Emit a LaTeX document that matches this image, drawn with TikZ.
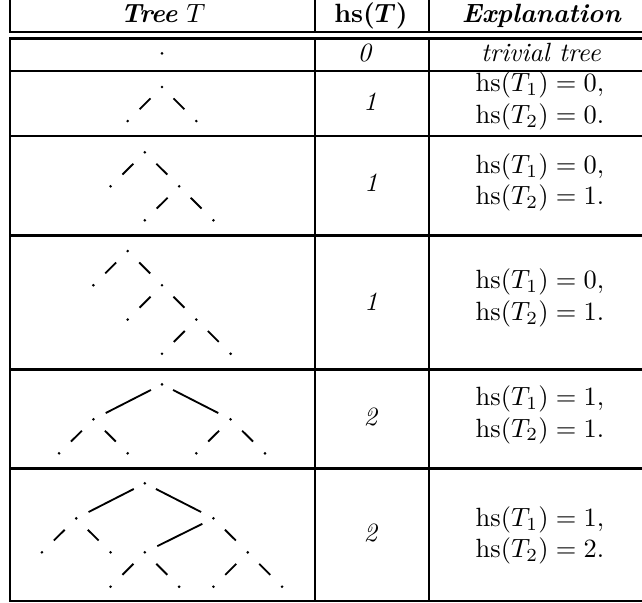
\documentclass[tikz,border=0pt]{standalone}
\begin{document}
\begin{tikzpicture}[x=0.3788pt,y=-0.3788pt,
  rule/.style={line width=0.8pt},
  dotnode/.style={circle,fill=black,inner sep=0pt,minimum size=1.1pt},
  sedge/.style={line width=0.7pt,shorten <=5.4pt,shorten >=5.6pt},
  ledge/.style={line width=0.7pt,shorten <=3.95pt,shorten >=4.5pt},
  txt/.style={anchor=base,inner sep=0pt}]
\useasboundingbox (0,0) rectangle (642,602);
% ---- table rules ----
\foreach \yy in {32,38.5,71,136,235.5,369.5,468.5,601}
  \draw[rule] (9,\yy) -- (650,\yy);
\foreach \xx in {10,315,429}{
  \draw[rule] (\xx,-2) -- (\xx,32);
  \draw[rule] (\xx,38.5) -- (\xx,601);
}
% ---- header ----
\node[txt] (h1) at (163,22) {\textbf{\textit{Tree}} $T$};
\node[txt] (h2) at (371,22) {{\boldmath$\mathbf{hs}(T)$}};
\node[txt] (h3) at (541.7,22) {\textbf{\textit{Explanation}}};
% ---- column 2 ----
\node[txt] (n1) at (365,61.5) {\textit{0}};
\node[txt] (n2) at (370,110) {\textit{1}};
\node[txt] (n3) at (371,191.7) {\textit{1}};
\node[txt] (n4) at (371,310) {\textit{1}};
\node[txt] (n5) at (371,425) {\textit{2}};
\node[txt] (n6) at (371,541) {\textit{2}};
% ---- column 3 ----
\node[txt] (e1) at (541,61) {\textit{trivial tree}};
\node[txt] (e2a) at (540,91.7) {$\mathrm{hs}(T_1) = 0,$};
\node[txt] (e2b) at (540,123.3) {$\mathrm{hs}(T_2) = 0.$};
\node[txt] (e3a) at (540,173.3) {$\mathrm{hs}(T_1) = 0,$};
\node[txt] (e3b) at (540,204.5) {$\mathrm{hs}(T_2) = 1.$};
\node[txt] (e4a) at (540,288.5) {$\mathrm{hs}(T_1) = 0,$};
\node[txt] (e4b) at (540,320.2) {$\mathrm{hs}(T_2) = 1.$};
\node[txt] (e5a) at (540,405.5) {$\mathrm{hs}(T_1) = 1,$};
\node[txt] (e5b) at (540,437) {$\mathrm{hs}(T_2) = 1.$};
\node[txt] (e6a) at (540,526.7) {$\mathrm{hs}(T_1) = 1,$};
\node[txt] (e6b) at (540,557.8) {$\mathrm{hs}(T_2) = 2.$};
% ---- row 1 tree ----
\node[dotnode] (t1) at (162,53.3) {};
% ---- row 2 tree ----
\node[dotnode] (r2a) at (162,87) {};
\node[dotnode] (r2b) at (127.7,121) {};
\node[dotnode] (r2c) at (196.3,121) {};
\draw[sedge] (r2a) -- (r2b);
\draw[sedge] (r2a) -- (r2c);
% ---- row 3 tree ----
\node[dotnode] (r3a) at (144.85,152.3) {};
\node[dotnode] (r3b) at (110.55,186.3) {};
\node[dotnode] (r3c) at (179.15,186.3) {};
\node[dotnode] (r3d) at (144.85,220.3) {};
\node[dotnode] (r3e) at (213.45,220.3) {};
\draw[sedge] (r3a) -- (r3b);
\draw[sedge] (r3a) -- (r3c);
\draw[sedge] (r3c) -- (r3d);
\draw[sedge] (r3c) -- (r3e);
% ---- row 4 tree ----
\node[dotnode] (r4a) at (127.7,251) {};
\node[dotnode] (r4b) at (93.4,285.2) {};
\node[dotnode] (r4c) at (162,285.2) {};
\node[dotnode] (r4d) at (127.7,319.5) {};
\node[dotnode] (r4e) at (196.3,319.5) {};
\node[dotnode] (r4f) at (162,353.7) {};
\node[dotnode] (r4g) at (230.6,353.7) {};
\draw[sedge] (r4a) -- (r4b);
\draw[sedge] (r4a) -- (r4c);
\draw[sedge] (r4c) -- (r4d);
\draw[sedge] (r4c) -- (r4e);
\draw[sedge] (r4e) -- (r4f);
\draw[sedge] (r4e) -- (r4g);
% ---- row 5 tree ----
\node[dotnode] (r5a) at (162,384.3) {};
\node[dotnode] (r5b) at (93.4,419.3) {};
\node[dotnode] (r5c) at (230.6,419.3) {};
\node[dotnode] (r5d) at (59.1,453.3) {};
\node[dotnode] (r5e) at (127.7,453.3) {};
\node[dotnode] (r5f) at (196.3,453.3) {};
\node[dotnode] (r5g) at (265,453.3) {};
\draw[ledge] (r5a) -- (r5b);
\draw[ledge] (r5a) -- (r5c);
\draw[sedge] (r5b) -- (r5d);
\draw[sedge] (r5b) -- (r5e);
\draw[sedge] (r5c) -- (r5f);
\draw[sedge] (r5c) -- (r5g);
% ---- row 6 tree ----
\node[dotnode] (r6a) at (144.85,483.3) {};
\node[dotnode] (r6b) at (76.25,518.3) {};
\node[dotnode] (r6c) at (213.45,518.3) {};
\node[dotnode] (r6d) at (41.95,552.3) {};
\node[dotnode] (r6e) at (110.55,552.3) {};
\node[dotnode] (r6f) at (144.85,552.3) {};
\node[dotnode] (r6g) at (247.75,552.3) {};
\node[dotnode] (r6h) at (110.55,586.7) {};
\node[dotnode] (r6i) at (179.15,586.7) {};
\node[dotnode] (r6j) at (213.45,586.7) {};
\node[dotnode] (r6k) at (282.05,586.7) {};
\draw[ledge] (r6a) -- (r6b);
\draw[ledge] (r6a) -- (r6c);
\draw[sedge] (r6b) -- (r6d);
\draw[sedge] (r6b) -- (r6e);
\draw[ledge] (r6c) -- (r6f);
\draw[sedge] (r6c) -- (r6g);
\draw[sedge] (r6f) -- (r6h);
\draw[sedge] (r6f) -- (r6i);
\draw[sedge] (r6g) -- (r6j);
\draw[sedge] (r6g) -- (r6k);
\end{tikzpicture}
\end{document}
